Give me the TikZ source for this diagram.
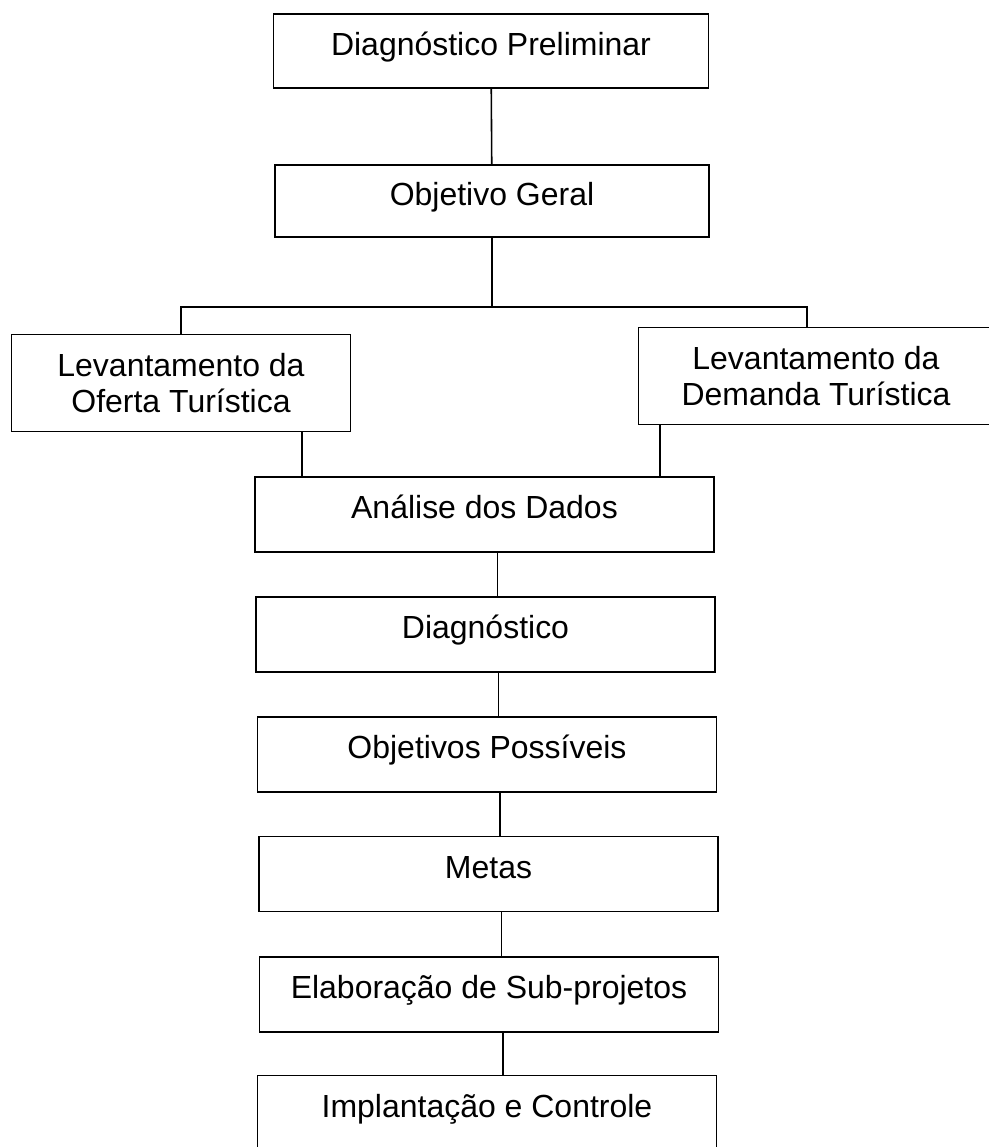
\documentclass[tikz,border=0pt]{standalone}
\usepackage{fontspec}
\setmainfont{Liberation Sans}
\usepackage{tikz}
\usetikzlibrary{positioning,calc}

\begin{document}
\begin{tikzpicture}[
    etapa/.style={draw,line width=0.9pt,minimum width=9.18cm,minimum height=1.5cm,
      text height=0.55cm,text depth=0.37cm,inner sep=2pt,font=\fontsize{18.2pt}{20.5pt}\selectfont},
    levant/.style={draw,line width=0.9pt,minimum height=1.94cm,align=center,inner sep=2pt,
      font=\fontsize{18.2pt}{20.5pt}\selectfont},
    liga/.style={line width=0.9pt}]
    % Page frame
    \useasboundingbox (0,0) rectangle (19.76,22.94);
    % Upper boxes
    \node[etapa,minimum width=8.7cm,minimum height=1.48cm] (prelim) at (9.82,21.92) {Diagnóstico Preliminar};
    \node[etapa,minimum width=8.68cm,minimum height=1.44cm] (geral) at (9.84,18.92) {Objetivo Geral};
    % Surveys
    \node[levant,minimum width=6.78cm] (oferta) at (3.62,15.28) {Levantamento da\\Oferta Turística};
    \node[levant,minimum width=7.1cm] (demanda) at (16.32,15.42) {Levantamento da\\Demanda Turística};
    % Lower chain
    \node[etapa] (analise) at (9.69,12.65) {Análise dos Dados};
    \node[etapa] (diag) at (9.71,10.25) {Diagnóstico};
    \node[etapa] (objpos) at (9.74,7.85) {Objetivos Possíveis};
    \node[etapa] (metas) at (9.77,5.46) {Metas};
    \node[etapa] (subproj) at (9.78,3.05) {Elaboração de Sub-projetos};
    \node[etapa] (implant) at (9.74,0.68) {Implantação e Controle};
    % Connectors
    \coordinate (ramo) at (9.84,16.8);
    \draw[liga] (prelim) -- (geral);
    \draw[liga] (geral.south) -- (ramo);
    \draw[liga] (oferta.north) |- (ramo) -| ([xshift=-0.18cm]demanda.north);
    \draw[liga] ([xshift=2.42cm]oferta.south) -- ([xshift=2.42cm]oferta.south |- analise.north);
    \draw[liga] ([xshift=-3.12cm]demanda.south) -- ([xshift=-3.12cm]demanda.south |- analise.north);
    \draw[liga] ([xshift=0.26cm]analise.south) -- ([xshift=0.26cm]analise.south |- diag.north);
    \draw[liga] ([xshift=0.26cm]diag.south) -- ([xshift=0.26cm]diag.south |- objpos.north);
    \draw[liga] ([xshift=0.26cm]objpos.south) -- ([xshift=0.26cm]objpos.south |- metas.north);
    \draw[liga] ([xshift=0.26cm]metas.south) -- ([xshift=0.26cm]metas.south |- subproj.north);
    \draw[liga] ([xshift=0.28cm]subproj.south) -- ([xshift=0.28cm]subproj.south |- implant.north);
\end{tikzpicture}
\end{document}
